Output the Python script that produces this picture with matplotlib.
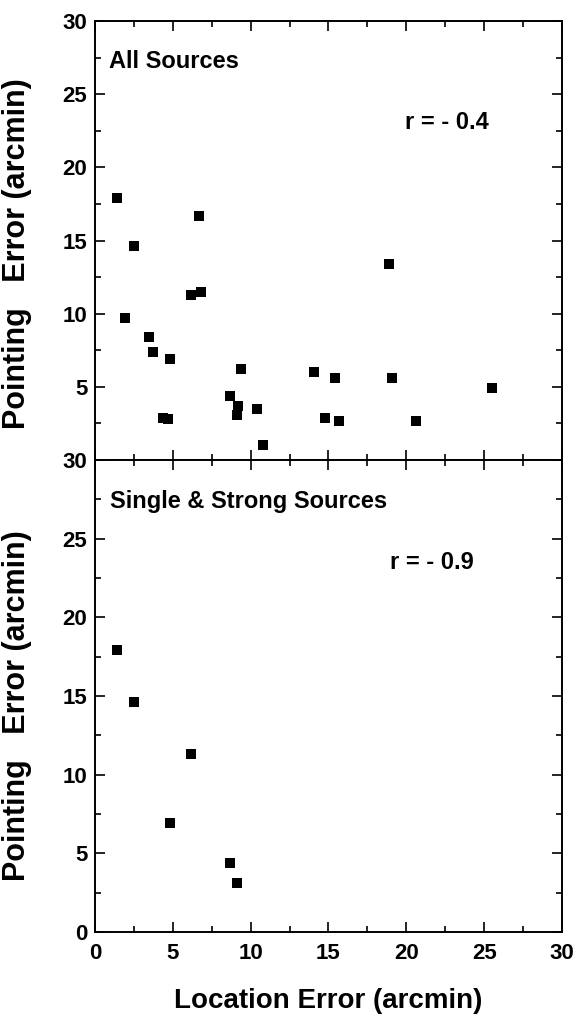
import matplotlib
matplotlib.use("Agg")
import matplotlib.pyplot as plt
from matplotlib.ticker import MultipleLocator

plt.rcParams['font.family'] = ['Liberation Sans', 'DejaVu Sans']
plt.rcParams['font.weight'] = 'bold'

# All sources: location error (x) vs pointing error (y), arcmin
all_x = [1.4, 2.5, 1.9, 6.7, 6.2, 6.8, 3.5, 3.7, 4.8, 4.4, 4.7, 8.7, 9.4, 9.2, 9.1,
         10.4, 10.8, 14.1, 15.4, 14.8, 15.7, 18.9, 19.1, 20.6, 25.5]
all_y = [17.9, 14.6, 9.7, 16.7, 11.3, 11.5, 8.4, 7.4, 6.9, 2.9, 2.8, 4.4, 6.2, 3.7, 3.1,
         3.5, 1.0, 6.0, 5.6, 2.9, 2.7, 13.4, 5.6, 2.7, 4.9]

# Single & strong sources
ss_x = [1.4, 2.5, 6.2, 4.8, 8.7, 9.1]
ss_y = [17.9, 14.6, 11.3, 6.9, 4.4, 3.1]

r_all = "r = - 0.4"
r_ss = "r = - 0.9"
title_all = "All Sources"
title_ss = "Single & Strong Sources"
ylabel = "Pointing   Error (arcmin)"
xlabel = "Location Error (arcmin)"

fig = plt.figure(figsize=(5.77, 10.16), dpi=100)
ax1 = fig.add_axes([0.1646, 0.5472, 0.8094, 0.4321])
ax2 = fig.add_axes([0.1646, 0.0827, 0.8094, 0.4646])

TICK_FS = 16
for ax in (ax1, ax2):
    ax.set_xlim(0, 30)
    ax.set_ylim(0, 30)
    ax.xaxis.set_major_locator(MultipleLocator(5))
    ax.xaxis.set_minor_locator(MultipleLocator(2.5))
    ax.yaxis.set_major_locator(MultipleLocator(5))
    ax.yaxis.set_minor_locator(MultipleLocator(2.5))
    ax.tick_params(which='both', direction='in', top=True, right=True, width=1.2)
    ax.tick_params(which='major', length=7, labelsize=TICK_FS)
    ax.tick_params(which='minor', length=4)
    ax.tick_params(axis='y', pad=5.5)
    ax.tick_params(axis='x', pad=8)
    for s in ax.spines.values():
        s.set_linewidth(1.4)
    ax.set_ylabel(ylabel, fontsize=22, fontweight='bold')

ax1.yaxis.set_label_coords(-0.135, 0.47)
ax2.yaxis.set_label_coords(-0.135, 0.48)

ax1.scatter(all_x, all_y, marker='s', s=42, color='black', linewidths=0)
ax2.scatter(ss_x, ss_y, marker='s', s=42, color='black', linewidths=0)

ax1.set_yticks([0, 5, 10, 15, 20, 25, 30])
ax1.set_yticklabels(['', '5', '10', '15', '20', '25', '30'])
ax1.tick_params(axis='x', labelbottom=False)

ax1.text(0.03, 0.907, title_all, transform=ax1.transAxes, fontsize=17,
         fontweight='bold', va='center', ha='left')
ax1.text(0.664, 0.77, r_all, transform=ax1.transAxes, fontsize=17,
         fontweight='bold', va='center', ha='left')
ax2.text(0.032, 0.911, title_ss, transform=ax2.transAxes, fontsize=17,
         fontweight='bold', va='center', ha='left')
ax2.text(0.632, 0.782, r_ss, transform=ax2.transAxes, fontsize=17,
         fontweight='bold', va='center', ha='left')

ax2.set_xlabel(xlabel, fontsize=20, fontweight='bold')
ax2.xaxis.set_label_coords(0.5, -0.118)

fig.savefig("out.png", dpi=100)
